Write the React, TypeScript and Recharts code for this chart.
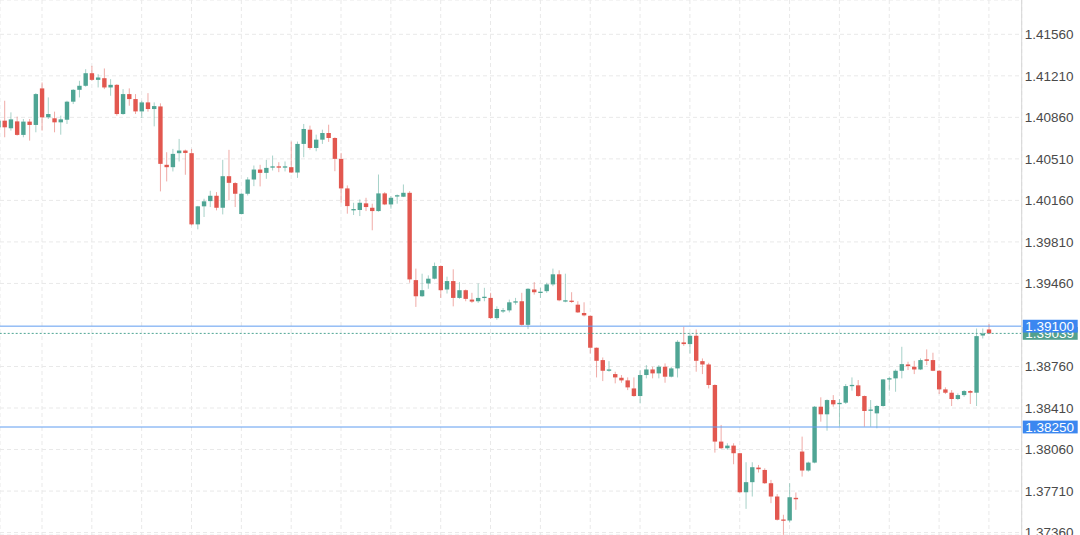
import React from 'react';
import { ComposedChart, Bar, XAxis, YAxis, CartesianGrid, ReferenceLine } from 'recharts';

const opens = [
  1.40776, 1.40832, 1.40768, 1.40826, 1.40712, 1.40824, 1.40796, 1.41104, 1.40860, 1.40852,
  1.40818, 1.40840, 1.40992, 1.41092, 1.41126, 1.41232, 1.41176, 1.41190, 1.41112, 1.41134,
  1.40888, 1.41056, 1.41014, 1.40910, 1.40986, 1.40930, 1.40952, 1.40460, 1.40440, 1.40558,
  1.40580, 1.40558, 1.39958, 1.40110, 1.40154, 1.40199, 1.40098, 1.40364, 1.40306, 1.40045,
  1.40216, 1.40336, 1.40420, 1.40392, 1.40437, 1.40446, 1.40437, 1.40440, 1.40395, 1.40636,
  1.40756, 1.40602, 1.40672, 1.40728, 1.40686, 1.40510, 1.40261, 1.40079, 1.40079, 1.40135,
  1.40098, 1.40070, 1.40219, 1.40126, 1.40194, 1.40191, 1.40224, 1.39488, 1.39352, 1.39460,
  1.39500, 1.39607, 1.39409, 1.39480, 1.39338, 1.39403, 1.39324, 1.39310, 1.39338, 1.39338,
  1.39168, 1.39225, 1.39233, 1.39301, 1.39310, 1.39111, 1.39409, 1.39381, 1.39395, 1.39452,
  1.39537, 1.39307, 1.39315, 1.39281, 1.39211, 1.39187, 1.38918, 1.38814, 1.38724, 1.38696,
  1.38665, 1.38643, 1.38575, 1.38511, 1.38688, 1.38735, 1.38702, 1.38758, 1.38674, 1.38744,
  1.38963, 1.38949, 1.39019, 1.38805, 1.38777, 1.38604, 1.38127, 1.38071, 1.38093, 1.38029,
  1.37700, 1.37785, 1.37908, 1.37888, 1.37776, 1.37664, 1.37468, 1.37462, 1.37653, 1.38043,
  1.37883, 1.37950, 1.38421, 1.38357, 1.38477, 1.38444, 1.38455, 1.38595, 1.38601, 1.38511,
  1.38388, 1.38365, 1.38427, 1.38651, 1.38660, 1.38724, 1.38777, 1.38758, 1.38735, 1.38820,
  1.38814, 1.38724, 1.38567, 1.38539, 1.38486, 1.38519, 1.38553, 1.38539, 1.39021, 1.39072,
];

const highs = [
  1.40846, 1.41000, 1.40902, 1.40866, 1.40846, 1.40846, 1.41064, 1.41154, 1.41028, 1.40908,
  1.40874, 1.41000, 1.41098, 1.41168, 1.41266, 1.41294, 1.41224, 1.41272, 1.41182, 1.41140,
  1.41098, 1.41104, 1.41056, 1.41000, 1.41064, 1.40986, 1.40978, 1.40566, 1.40594, 1.40678,
  1.40588, 1.40594, 1.40114, 1.40174, 1.40241, 1.40230, 1.40502, 1.40586, 1.40314, 1.40220,
  1.40356, 1.40454, 1.40460, 1.40502, 1.40538, 1.40482, 1.40488, 1.40656, 1.40656, 1.40804,
  1.40790, 1.40714, 1.40756, 1.40798, 1.40692, 1.40560, 1.40286, 1.40140, 1.40168, 1.40182,
  1.40132, 1.40378, 1.40230, 1.40196, 1.40210, 1.40294, 1.40238, 1.39585, 1.39542, 1.39528,
  1.39636, 1.39613, 1.39517, 1.39579, 1.39471, 1.39409, 1.39381, 1.39460, 1.39423, 1.39381,
  1.39267, 1.39253, 1.39324, 1.39338, 1.39381, 1.39420, 1.39471, 1.39423, 1.39466, 1.39585,
  1.39571, 1.39542, 1.39386, 1.39310, 1.39301, 1.39190, 1.38920, 1.38836, 1.38805, 1.38716,
  1.38688, 1.38668, 1.38668, 1.38730, 1.38772, 1.38758, 1.38772, 1.38786, 1.38758, 1.38982,
  1.39094, 1.39038, 1.39072, 1.38828, 1.38791, 1.38610, 1.38267, 1.38113, 1.38113, 1.38032,
  1.37953, 1.37953, 1.37930, 1.37902, 1.37804, 1.37684, 1.37510, 1.37776, 1.37698, 1.38169,
  1.37958, 1.38427, 1.38500, 1.38483, 1.38519, 1.38486, 1.38612, 1.38668, 1.38646, 1.38515,
  1.38477, 1.38435, 1.38654, 1.38674, 1.38735, 1.38926, 1.38800, 1.38808, 1.38828, 1.38904,
  1.38876, 1.38730, 1.38584, 1.38561, 1.38533, 1.38561, 1.38561, 1.39080, 1.39080, 1.39117,
];

const lows = [
  1.40762, 1.40692, 1.40748, 1.40706, 1.40692, 1.40664, 1.40734, 1.40748, 1.40846, 1.40734,
  1.40714, 1.40804, 1.40972, 1.41028, 1.41118, 1.41168, 1.41112, 1.41098, 1.41042, 1.40874,
  1.40882, 1.40958, 1.40888, 1.40854, 1.40908, 1.40784, 1.40236, 1.40320, 1.40404, 1.40488,
  1.40376, 1.39950, 1.39916, 1.40020, 1.40104, 1.40076, 1.40042, 1.40160, 1.40104, 1.40042,
  1.40202, 1.40280, 1.40278, 1.40342, 1.40412, 1.40398, 1.40404, 1.40392, 1.40350, 1.40524,
  1.40588, 1.40574, 1.40636, 1.40653, 1.40406, 1.40140, 1.40048, 1.40037, 1.40028, 1.40070,
  1.39908, 1.40065, 1.40120, 1.40090, 1.40132, 1.40188, 1.39466, 1.39262, 1.39347, 1.39415,
  1.39494, 1.39338, 1.39375, 1.39267, 1.39330, 1.39310, 1.39296, 1.39296, 1.39310, 1.39160,
  1.39154, 1.39211, 1.39216, 1.39281, 1.39105, 1.39075, 1.39366, 1.39338, 1.39381, 1.39437,
  1.39310, 1.39301, 1.39296, 1.39211, 1.39182, 1.38870, 1.38668, 1.38637, 1.38716, 1.38618,
  1.38623, 1.38561, 1.38505, 1.38449, 1.38660, 1.38660, 1.38660, 1.38623, 1.38668, 1.38668,
  1.38934, 1.38870, 1.38716, 1.38696, 1.38575, 1.38034, 1.38065, 1.38057, 1.37936, 1.37697,
  1.37560, 1.37664, 1.37866, 1.37770, 1.37608, 1.37462, 1.37341, 1.37445, 1.37552, 1.37832,
  1.37874, 1.37944, 1.38295, 1.38219, 1.38421, 1.38253, 1.38444, 1.38556, 1.38505, 1.38253,
  1.38253, 1.38239, 1.38421, 1.38556, 1.38547, 1.38660, 1.38730, 1.38696, 1.38730, 1.38772,
  1.38721, 1.38528, 1.38528, 1.38427, 1.38477, 1.38505, 1.38444, 1.38427, 1.38996, 1.39033,
];

const closes = [
  1.40832, 1.40776, 1.40843, 1.40712, 1.40824, 1.40796, 1.41056, 1.40860, 1.40888, 1.40818,
  1.40843, 1.40992, 1.41092, 1.41126, 1.41232, 1.41176, 1.41196, 1.41112, 1.41134, 1.40888,
  1.41056, 1.41014, 1.40910, 1.40986, 1.40930, 1.40955, 1.40468, 1.40440, 1.40552, 1.40580,
  1.40560, 1.39958, 1.40110, 1.40152, 1.40199, 1.40098, 1.40364, 1.40308, 1.40216, 1.40216,
  1.40336, 1.40420, 1.40392, 1.40434, 1.40446, 1.40437, 1.40446, 1.40395, 1.40636, 1.40762,
  1.40602, 1.40672, 1.40728, 1.40686, 1.40510, 1.40261, 1.40112, 1.40084, 1.40140, 1.40104,
  1.40070, 1.40219, 1.40126, 1.40182, 1.40202, 1.40224, 1.39494, 1.39352, 1.39403, 1.39500,
  1.39607, 1.39403, 1.39480, 1.39338, 1.39403, 1.39330, 1.39307, 1.39338, 1.39347, 1.39168,
  1.39245, 1.39233, 1.39301, 1.39307, 1.39111, 1.39415, 1.39386, 1.39389, 1.39452, 1.39537,
  1.39318, 1.39318, 1.39304, 1.39216, 1.39191, 1.38918, 1.38808, 1.38724, 1.38735, 1.38668,
  1.38643, 1.38584, 1.38511, 1.38688, 1.38735, 1.38702, 1.38758, 1.38674, 1.38744, 1.38968,
  1.38949, 1.39019, 1.38808, 1.38777, 1.38604, 1.38127, 1.38071, 1.38093, 1.38029, 1.37700,
  1.37785, 1.37911, 1.37894, 1.37776, 1.37664, 1.37468, 1.37462, 1.37658, 1.37641, 1.37883,
  1.37950, 1.38421, 1.38357, 1.38477, 1.38441, 1.38452, 1.38595, 1.38604, 1.38511, 1.38385,
  1.38396, 1.38427, 1.38651, 1.38660, 1.38724, 1.38780, 1.38763, 1.38735, 1.38814, 1.38808,
  1.38724, 1.38567, 1.38539, 1.38486, 1.38519, 1.38553, 1.38539, 1.39016, 1.39038, 1.39039,
];

const priceTicks = [1.3736, 1.3771, 1.3806, 1.3841, 1.3876, 1.3946, 1.3981, 1.4016, 1.4051, 1.4086, 1.4121, 1.4156];
const gridIndices = [7, 15, 23, 31, 39, 47, 55, 63, 71, 79, 87, 95, 103, 111, 119, 127, 135, 143, 151, 159];
const resistanceLevel = 1.391;
const supportLevel = 1.3825;
const lastPrice = 1.39039;

const UP = '#4fa594';
const DOWN = '#e2574f';
const FONT = '"Liberation Sans", Arial, Helvetica, sans-serif';

const data = opens.map((o, i) => ({
  i,
  o,
  h: highs[i],
  l: lows[i],
  c: closes[i],
  range: [lows[i], highs[i]],
}));

const Candle = (props: any) => {
  const { x, width, payload } = props;
  let { y, height } = props;
  if (height < 0) {
    y = y + height;
    height = -height;
  }
  const { o, h, l, c } = payload;
  const up = c >= o;
  const color = up ? UP : DOWN;
  const k = h - l > 0 ? height / (h - l) : 0;
  const py = (p: number) => y + (h - p) * k;
  const cx = x + width / 2;
  const top = py(Math.max(o, c));
  const bot = py(Math.min(o, c));
  const bh = Math.max(1.3, bot - top);
  return (
    <g>
      <line x1={cx} x2={cx} y1={y} y2={y + height} stroke={color} strokeOpacity={0.5} strokeWidth={1} />
      <rect x={x} y={bot - top < 1.3 ? (top + bot) / 2 - 0.65 : top} width={width} height={bh} fill={color} />
    </g>
  );
};

const makeTag = (fill: string, text: string) => (props: any) => {
  const vb = props.viewBox || {};
  const x = (vb.x || 0) + (vb.width || 0) + 1;
  const y = vb.y || 0;
  return (
    <g>
      <rect x={x} y={y - 6.4} width={55} height={12.8} fill={fill} />
      <text x={x + 2.5} y={y} dy="0.36em" fill="#ffffff" fontSize={13.5} fontFamily={FONT}>
        {text}
      </text>
    </g>
  );
};

export default function App() {
  return (
    <div style={{ position: 'absolute', left: 0, top: 0, width: 1080, height: 535, background: '#ffffff' }}>
      <ComposedChart width={1080} height={535} data={data} margin={{ top: 0, right: 0, bottom: 0, left: 0 }}>
        <CartesianGrid stroke="#e9e9e9" strokeDasharray="4 3" />
        <XAxis
          dataKey="i"
          type="number"
          domain={[0.26, 164.26]}
          allowDataOverflow
          ticks={gridIndices}
          hide
        />
        <YAxis
          orientation="right"
          type="number"
          domain={[1.373397, 1.418491]}
          allowDataOverflow
          ticks={priceTicks}
          interval={0}
          width={58.3}
          axisLine={{ stroke: '#d6d6d6' }}
          tickLine={false}
          tickSize={0}
          tickMargin={3}
          tick={{ fill: '#4a4a4a', fontSize: 13.5, fontFamily: FONT }}
          tickFormatter={(v: number) => v.toFixed(5)}
        />
        <Bar dataKey="range" barSize={4.4} shape={Candle} isAnimationActive={false} />
        <ReferenceLine
          y={lastPrice}
          stroke="#4fa594"
          strokeDasharray="2 2"
          label={makeTag('#52a08e', lastPrice.toFixed(5))}
        />
        <ReferenceLine y={supportLevel} stroke="#5f9cf0" strokeWidth={1} label={makeTag('#3b87f0', supportLevel.toFixed(5))} />
        <ReferenceLine y={resistanceLevel} stroke="#5f9cf0" strokeWidth={1} label={makeTag('#3b87f0', resistanceLevel.toFixed(5))} />
      </ComposedChart>
    </div>
  );
}
